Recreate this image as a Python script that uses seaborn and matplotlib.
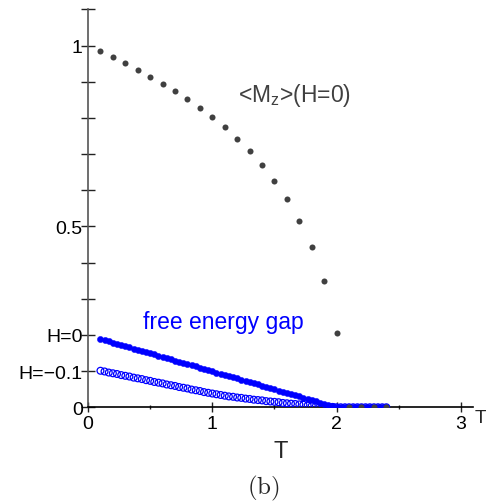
import matplotlib
matplotlib.use("Agg")
import matplotlib.pyplot as plt
import seaborn as sns
import pandas as pd
from matplotlib.ticker import FixedLocator

sns.set_theme(style="ticks")
plt.rcParams["font.family"] = ["Liberation Sans", "DejaVu Sans"]
plt.rcParams["mathtext.fontset"] = "custom"
plt.rcParams["mathtext.rm"] = "Liberation Sans"
plt.rcParams["mathtext.it"] = "Liberation Sans:italic"
plt.rcParams["mathtext.sf"] = "Liberation Sans"

# Magnetisation <Mz> at H=0 versus temperature
T_mag = [0.1, 0.2, 0.3, 0.4, 0.5, 0.6, 0.7, 0.8, 0.9, 1.0,
         1.1, 1.2, 1.3, 1.4, 1.5, 1.6, 1.7, 1.8, 1.9, 2.0,
         2.1, 2.2, 2.3, 2.4]
M_z = [0.985, 0.968, 0.951, 0.933, 0.914, 0.894, 0.874, 0.852, 0.828, 0.802,
       0.774, 0.743, 0.709, 0.670, 0.626, 0.575, 0.514, 0.442, 0.348, 0.206,
       0.0, 0.0, 0.0, 0.0]

# Free energy gap versus temperature for two fields
T_gap = [0.100, 0.133, 0.167, 0.200, 0.233, 0.267, 0.300, 0.333, 0.367, 0.400,
         0.433, 0.467, 0.500, 0.533, 0.567, 0.600, 0.633, 0.667, 0.700, 0.733,
         0.767, 0.800, 0.833, 0.867, 0.900, 0.933, 0.967, 1.000, 1.033, 1.067,
         1.100, 1.133, 1.167, 1.200, 1.233, 1.267, 1.300, 1.333, 1.367, 1.400,
         1.433, 1.467, 1.500, 1.533, 1.567, 1.600, 1.633, 1.667, 1.700, 1.733,
         1.767, 1.800, 1.833, 1.867, 1.900, 1.933, 1.967, 2.000, 2.033, 2.067,
         2.100, 2.133, 2.167, 2.200, 2.233, 2.267, 2.300, 2.333, 2.367, 2.400]
gap_H0 = [0.189, 0.186, 0.182, 0.179, 0.176, 0.172, 0.169, 0.166, 0.162, 0.159,
          0.156, 0.152, 0.149, 0.146, 0.142, 0.139, 0.136, 0.133, 0.129, 0.126,
          0.123, 0.119, 0.116, 0.113, 0.109, 0.106, 0.103, 0.099, 0.096, 0.093,
          0.089, 0.086, 0.083, 0.080, 0.076, 0.073, 0.070, 0.066, 0.063, 0.060,
          0.056, 0.053, 0.050, 0.046, 0.043, 0.040, 0.036, 0.033, 0.030, 0.027,
          0.023, 0.020, 0.017, 0.013, 0.010, 0.007, 0.004, 0.002, 0.001, 0.0,
          0.0, 0.0, 0.0, 0.0, 0.0, 0.0, 0.0, 0.0, 0.0, 0.0]
gap_Hm01 = [0.101, 0.099, 0.096, 0.094, 0.092, 0.089, 0.087, 0.085, 0.082, 0.080,
            0.078, 0.075, 0.073, 0.070, 0.068, 0.066, 0.063, 0.061, 0.059, 0.056,
            0.054, 0.052, 0.049, 0.047, 0.045, 0.042, 0.040, 0.038, 0.036, 0.034,
            0.032, 0.030, 0.029, 0.027, 0.026, 0.024, 0.023, 0.021, 0.020, 0.019,
            0.017, 0.016, 0.015, 0.014, 0.012, 0.011, 0.010, 0.009, 0.008, 0.007,
            0.005, 0.004, 0.003, 0.003, 0.002, 0.001, 0.001, 0.0, 0.0, 0.0,
            0.0, 0.0, 0.0, 0.0, 0.0, 0.0, 0.0, 0.0, 0.0, 0.0]

y_tick_values = [0.0, 0.1, 0.2, 0.5, 1.0]
y_tick_labels = ["0", "H=\u22120.1", "H=0", "0.5", "1"]
y_minor_values = [0.3, 0.4, 0.6, 0.7, 0.8, 0.9, 1.1]
x_tick_values = [0, 1, 2, 3]
x_tick_labels = ["0", "1", "2", "3"]
x_minor_values = [0.5, 1.5, 2.5]

mag_df = pd.DataFrame({"T": T_mag, "M": M_z})
gap_df = pd.DataFrame({"T": T_gap, "H0": gap_H0, "Hm01": gap_Hm01})

fig = plt.figure(figsize=(4.86, 5.02), dpi=100)
ax = fig.add_axes([0.1811, 0.1867, 0.7929, 0.7924])

# open circles: H = -0.1
sns.scatterplot(data=gap_df, x="T", y="Hm01", ax=ax, s=24, color="blue",
                linewidth=0.9, zorder=3, legend=False)
open_pts = ax.collections[-1]
open_pts.set_facecolor("none")
open_pts.set_edgecolor("blue")
open_pts.set_linewidth(0.9)

# filled dots: H = 0
sns.scatterplot(data=gap_df, x="T", y="H0", ax=ax, s=20, color="blue",
                edgecolor="blue", linewidth=0.3, zorder=4, legend=False)

# magnetisation
sns.scatterplot(data=mag_df, x="T", y="M", ax=ax, s=19, color="#404040",
                edgecolor="#404040", linewidth=0, zorder=5, legend=False)

ax.set_xlim(0, 3.1)
ax.set_ylim(0, 1.1)

for side in ("top", "right"):
    ax.spines[side].set_visible(False)
ax.spines["left"].set_color("#555555")
ax.spines["left"].set_linewidth(1.2)
ax.spines["bottom"].set_color("black")
ax.spines["bottom"].set_linewidth(1.2)

ax.set_xticks(x_tick_values)
ax.set_xticklabels(x_tick_labels)
ax.xaxis.set_minor_locator(FixedLocator(x_minor_values))
ax.set_yticks(y_tick_values)
ax.set_yticklabels(y_tick_labels)
ax.yaxis.set_minor_locator(FixedLocator(y_minor_values))

ax.tick_params(axis="both", which="both", direction="inout", colors="#222222",
               labelcolor="black", labelsize=14, bottom=True, left=True,
               top=False, right=False)
ax.tick_params(axis="y", which="both", length=9.5, width=1.0, pad=-1)
ax.tick_params(axis="x", which="major", length=6.5, width=1.0, pad=2)
ax.tick_params(axis="x", which="minor", length=3.5, width=1.0)

ax.set_xlabel("T", fontsize=17, labelpad=6)
ax.set_ylabel("")

ax.text(3.11, -0.027, "T", fontsize=14, ha="left", va="center", clip_on=False)
ax.text(1.209, 0.846, r"<M$_\mathrm{z}$>(H=0)", fontsize=16.5, color="#404040",
        ha="left", va="baseline")
ax.text(0.44, 0.219, "free energy gap", fontsize=16.5, color="blue",
        ha="left", va="baseline")

fig.text(0.543, 0.027, r"$\mathrm{(b)}$", fontsize=18, ha="center", va="center",
         math_fontfamily="cm")

fig.savefig("out.png", dpi=100, facecolor="white")
